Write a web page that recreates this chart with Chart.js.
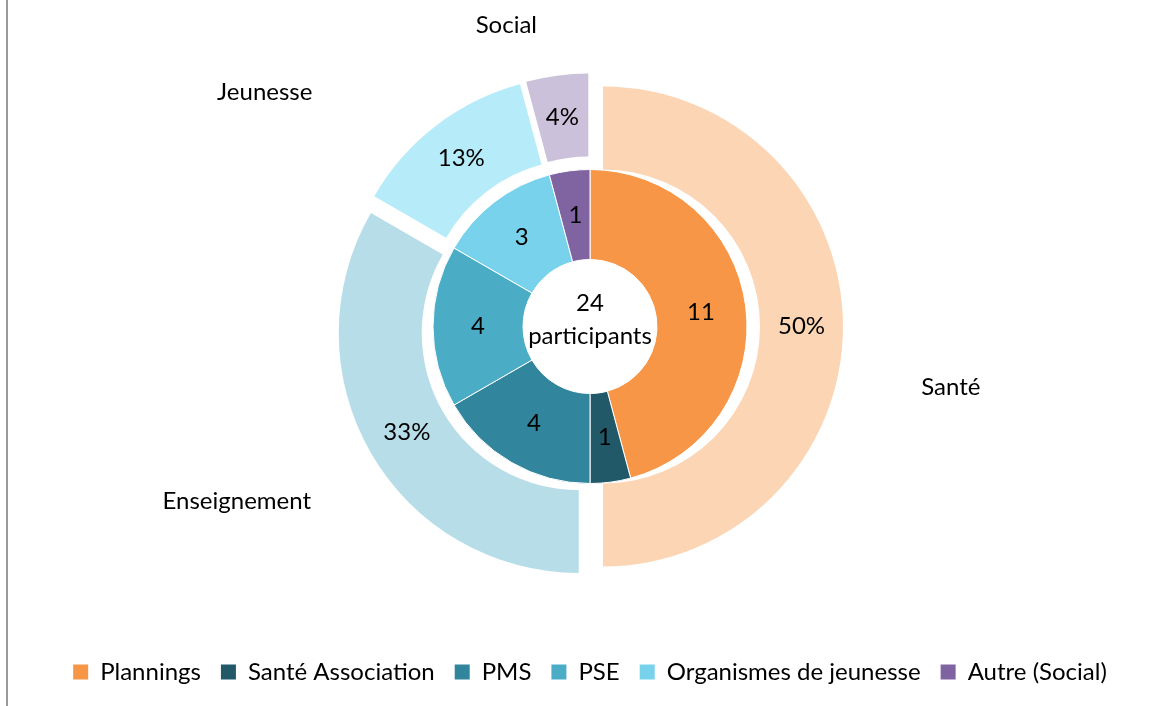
<!DOCTYPE html>
<html>
<head>
<meta charset="utf-8">
<script src="https://cdn.jsdelivr.net/npm/chart.js@4.4.1/dist/chart.umd.min.js"></script>
<style>
  html, body { margin: 0; padding: 0; background: #fff; }
  #wrap { position: relative; width: 1168px; height: 706px; }
  #edge { position: absolute; left: 6px; top: 0; width: 2px; height: 706px; background: #9a9a9a; }
  canvas { position: absolute; left: 0; top: 0; }
</style>
</head>
<body>
<div id="wrap">
  <canvas id="myChart" width="1168" height="706"></canvas>
  <div id="edge"></div>
</div>
<script>
// inner ring: participants per organisation type
var typeLabels = ['Plannings', 'Santé Association', 'PMS', 'PSE', 'Organismes de jeunesse', 'Autre (Social)'];
var typeCounts = [11, 1, 4, 4, 3, 1];
var typeColors = ['#F79646', '#215968', '#31859C', '#4BACC6', '#79D2EC', '#8064A2'];

// outer ring: sectors
var sectorLabels = ['Santé', 'Enseignement', 'Jeunesse', 'Social'];
var sectorCounts = [12, 8, 3, 1];
var sectorColors = ['#FCD5B5', '#B7DEE8', '#B6ECF9', '#CCC1DA'];

// where the sector names sit (degrees clockwise from top, distance from centre)
var sectorNameAngles = [99.6, 243.7, 305.8, 344.5];
var sectorNameDistances = [366, 394, 401, 313];

var FONT = 'Lato, "Open Sans", sans-serif';
var FONT_SIZE = 24;
var EXPLODE = 13; // px each outer slice is pushed out

var total = typeCounts.reduce(function (a, b) { return a + b; }, 0);

function arcMiddle(arc, push) {
  var mid = (arc.startAngle + arc.endAngle) / 2;
  var r = (arc.innerRadius + arc.outerRadius) / 2 + push;
  return { x: arc.x + Math.cos(mid) * r, y: arc.y + Math.sin(mid) * r };
}

// chart.js's own offset also grows the radius, so shift the outer slices by hand
var explodePlugin = {
  id: 'explode',
  beforeDatasetDraw: function (chart, args) {
    if (args.index !== 0) return;
    var ctx = chart.ctx;
    args.meta.data.forEach(function (arc) {
      var mid = (arc.startAngle + arc.endAngle) / 2;
      ctx.save();
      ctx.translate(Math.cos(mid) * EXPLODE, Math.sin(mid) * EXPLODE);
      arc.draw(ctx, chart.chartArea);
      ctx.restore();
    });
    return false;
  }
};

var labelsPlugin = {
  id: 'ringLabels',
  afterDatasetsDraw: function (chart) {
    var ctx = chart.ctx;
    ctx.save();
    ctx.fillStyle = '#000';
    ctx.font = FONT_SIZE + 'px ' + FONT;
    ctx.textAlign = 'center';
    ctx.textBaseline = 'middle';

    // outer ring: percentages + sector names
    var outer = chart.getDatasetMeta(0);
    var sectorTotal = sectorCounts.reduce(function (a, b) { return a + b; }, 0);
    outer.data.forEach(function (arc, i) {
      var p = arcMiddle(arc, EXPLODE);
      ctx.fillText(Math.round(sectorCounts[i] / sectorTotal * 100) + '%', p.x, p.y);
      var a = sectorNameAngles[i] * Math.PI / 180;
      var r = sectorNameDistances[i];
      ctx.fillText(sectorLabels[i], arc.x + Math.sin(a) * r, arc.y - Math.cos(a) * r);
    });

    // inner ring: counts
    var inner = chart.getDatasetMeta(1);
    inner.data.forEach(function (arc, i) {
      var p = arcMiddle(arc, 0);
      ctx.fillText(String(typeCounts[i]), p.x, p.y);
    });

    // centre text
    var c = inner.data[0];
    ctx.fillText(String(total), c.x, c.y - 23);
    ctx.fillText('participants', c.x, c.y + 10);
    ctx.restore();
  }
};

var ctx = document.getElementById('myChart').getContext('2d');
new Chart(ctx, {
  type: 'doughnut',
  data: {
    labels: typeLabels,
    datasets: [
      {
        label: 'Secteurs',
        data: sectorCounts,
        backgroundColor: sectorColors,
        borderWidth: 0,
        weight: 83
      },
      {
        label: 'Types',
        data: typeCounts,
        backgroundColor: typeColors,
        borderColor: '#fff',
        borderWidth: 1,
        weight: 90
      }
    ]
  },
  options: {
    responsive: false,
    animation: false,
    events: [],
    radius: 240,
    cutout: (67 / 240 * 100) + '%',
    layout: { padding: { top: 13, left: 12, right: 0, bottom: 12 } },
    plugins: {
      tooltip: { enabled: false },
      legend: {
        position: 'bottom',
        labels: {
          boxWidth: 15,
          boxHeight: 15,
          padding: 20,
          color: '#000',
          font: { family: FONT, size: FONT_SIZE },
          generateLabels: function () {
            return typeLabels.map(function (name, i) {
              return {
                text: name,
                fillStyle: typeColors[i],
                strokeStyle: typeColors[i],
                lineWidth: 0,
                hidden: false,
                index: i
              };
            });
          }
        }
      }
    }
  },
  plugins: [explodePlugin, labelsPlugin]
});
</script>
</body>
</html>
